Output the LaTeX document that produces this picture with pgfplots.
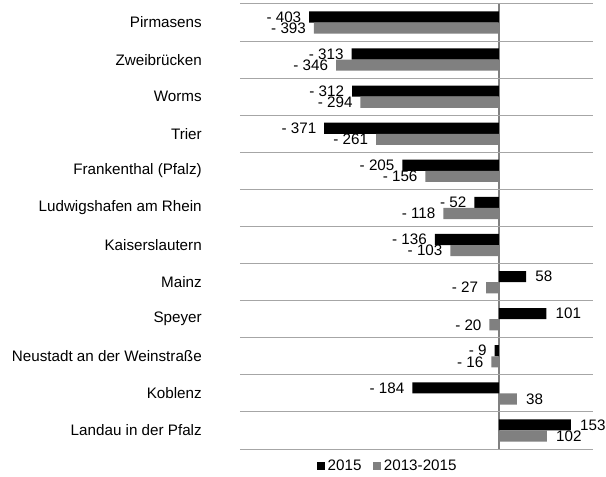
\documentclass[border=0pt]{standalone}
\usepackage{fontspec}
\setmainfont{Liberation Sans}
\usepackage{pgfplots}
\usepackage{pgfplotstable}
\pgfplotsset{compat=1.18}

\definecolor{barA}{HTML}{000000}
\definecolor{barB}{HTML}{808080}
\definecolor{sepline}{HTML}{A6A6A6}

% idx, 2015, 2013-2015, labels
\pgfplotstableread[col sep=comma]{
idx,name,a,b,la,lb
0,Pirmasens,-403,-393,- 403,- 393
1,Zweibrücken,-313,-346,- 313,- 346
2,Worms,-312,-294,- 312,- 294
3,Trier,-371,-261,- 371,- 261
4,Frankenthal (Pfalz),-205,-156,- 205,- 156
5,Ludwigshafen am Rhein,-52,-118,- 52,- 118
6,Kaiserslautern,-136,-103,- 136,- 103
7,Mainz,58,-27,58,- 27
8,Speyer,101,-20,101,- 20
9,Neustadt an der Weinstraße,-9,-16,- 9,- 16
10,Koblenz,-184,38,- 184,38
11,Landau in der Pfalz,153,102,153,102
}\data

\begin{document}
\begin{tikzpicture}
\path[use as bounding box] (-180pt,-21pt) rectangle (274.5pt,336.75pt);
\begin{axis}[
  at={(0,0)}, anchor=south west,
  scale only axis,
  width=264.75pt, height=333.75pt,
  font=\fontsize{11.4}{13}\selectfont,
  xmin=-550, xmax=200,
  ymin=-0.5, ymax=11.5,
  y dir=reverse,
  xtick=\empty,
  ytick={0,...,11},
  yticklabels from table={\data}{name},
  yticklabel style={anchor=east, inner sep=0pt, xshift=-28.5pt},
  major tick length=0pt,
  axis line style={draw=none},
  extra y ticks={-0.5,0.5,...,11.5},
  extra y tick labels={},
  extra y tick style={grid=major, major grid style={sepline, line width=0.75pt}},
  extra x ticks={0},
  extra x tick labels={},
  extra x tick style={grid=major, major grid style={barB, line width=1.1pt}},
  clip=false,
  xbar,
  bar width=0.3,
  point meta=explicit symbolic,
  visualization depends on={rawx \as \rawx},
  nodes near coords={\ifdim\rawx pt<0pt\llap{\pgfplotspointmeta\hspace{6pt}}\else\rlap{\hspace{7pt}\pgfplotspointmeta}\fi},
  every node near coord/.append style={font=\fontsize{11.4}{13}\selectfont, anchor=center, inner sep=0pt, text=black},
  legend style={draw=none, at={(0.42,-0.038)}, anchor=center, legend columns=2,
    font=\fontsize{11.4}{13}\selectfont,
    /tikz/every even column/.append style={column sep=7pt}},
  legend cell align=left,
]
\addplot[fill=barA, draw=none, bar shift=-0.15,
  legend image code/.code={\fill[barA] (0pt,-2.9pt) rectangle (5.8pt,2.9pt);}]
  table[x=a, y=idx, meta=la] {\data};
\addlegendentry{2015}
\addplot[fill=barB, draw=none, bar shift=0.15,
  legend image code/.code={\fill[barB] (0pt,-2.9pt) rectangle (5.8pt,2.9pt);}]
  table[x=b, y=idx, meta=lb] {\data};
\addlegendentry{2013-2015}
\end{axis}
\end{tikzpicture}
\end{document}
